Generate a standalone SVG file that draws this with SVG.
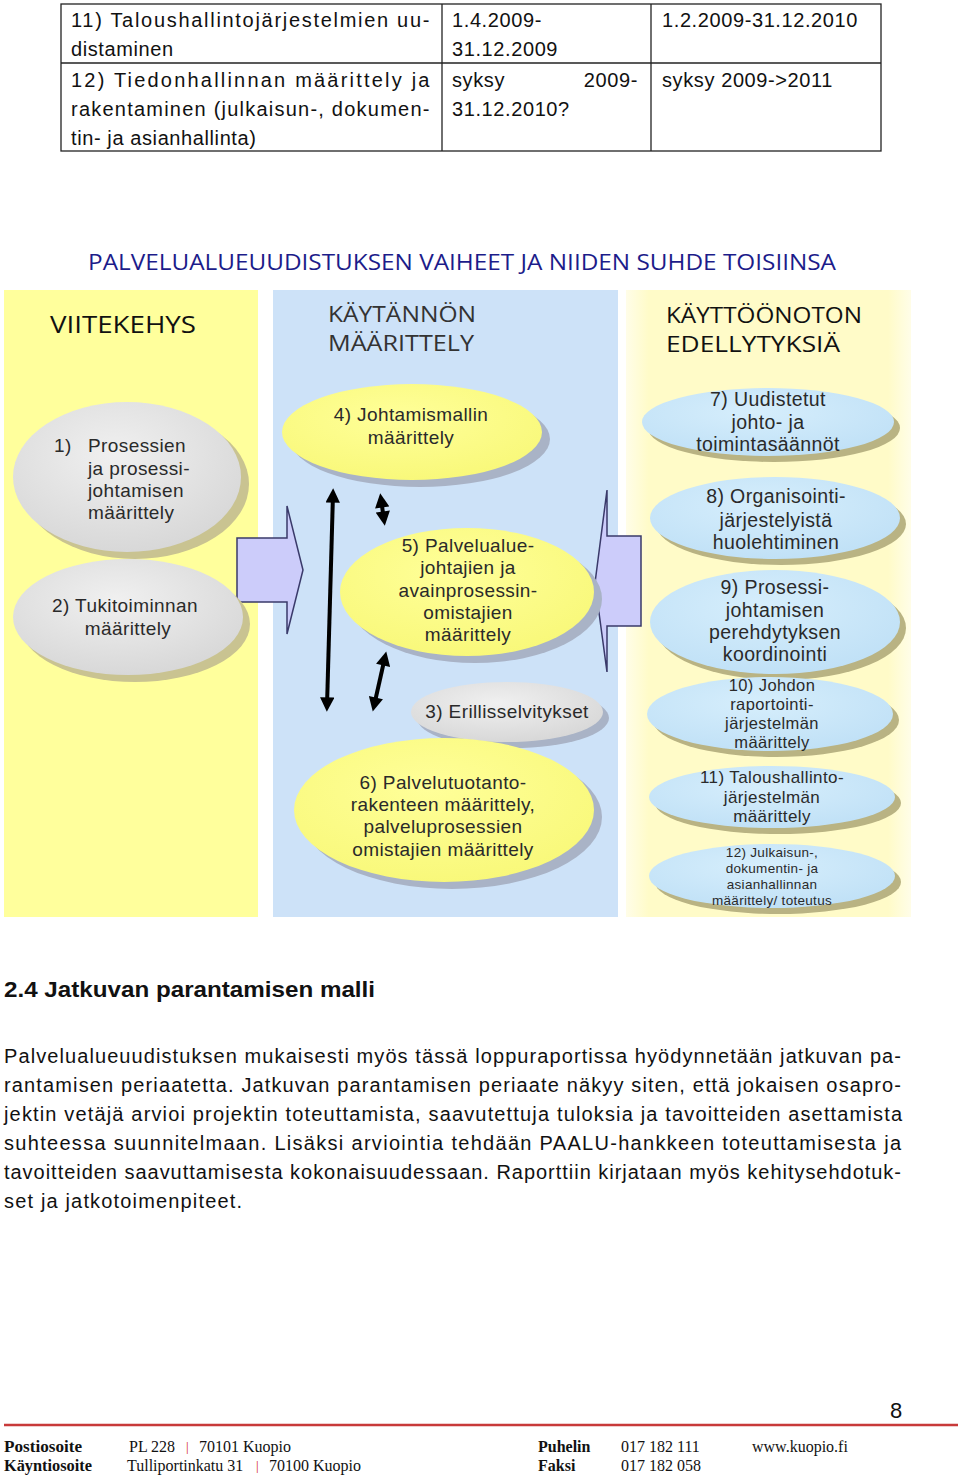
<svg xmlns="http://www.w3.org/2000/svg" width="960" height="1477" viewBox="0 0 960 1477">
<defs>
<style>
.tbl{font-family:"Liberation Sans",Arial,sans-serif;font-size:20px;fill:#111;letter-spacing:0.6px}
.body{font-family:"Liberation Sans",Arial,sans-serif;font-size:20px;fill:#111}
.h2{font-family:"Liberation Sans",Arial,sans-serif;font-size:22px;font-weight:bold;fill:#111}
.ttl{font-family:"Open Sans","DejaVu Sans",sans-serif;font-size:22px;fill:#1c1c8a}
.ph{font-family:"Open Sans","DejaVu Sans",sans-serif;font-size:22px;fill:#111}
.ph2{font-family:"Open Sans","DejaVu Sans",sans-serif;font-size:21px;fill:#333}
.el{font-family:"Liberation Sans",Arial,sans-serif;font-size:19px;letter-spacing:0.4px;fill:#2a2a2a;text-anchor:middle}
.elr{font-family:"Liberation Sans",Arial,sans-serif;font-size:19.5px;letter-spacing:0.4px;fill:#2a2a2a;text-anchor:middle}
.els{font-family:"Liberation Sans",Arial,sans-serif;font-size:16.5px;letter-spacing:0.4px;fill:#2a2a2a;text-anchor:middle}
.elxs{font-family:"Liberation Sans",Arial,sans-serif;font-size:13.5px;letter-spacing:0.3px;fill:#2a2a2a;text-anchor:middle}
.ft{font-family:"Liberation Serif","Times New Roman",serif;font-size:16px;fill:#111}
.ftb{font-family:"Liberation Serif","Times New Roman",serif;font-size:16px;font-weight:bold;fill:#111}
.sep{font-family:"Liberation Serif",serif;font-size:13px;fill:#d02020}
.cell{fill:none;stroke:#222;stroke-width:1.3}
.shg{fill:#c9c391}
.shb{fill:#a9b3c6}
.shr{fill:#b9b383}
.gray{fill:url(#gGray)}
.yel{fill:url(#gYel)}
.blu{fill:url(#gBlu)}
.conn{stroke:#000;stroke-width:4;fill:none;marker-start:url(#ah);marker-end:url(#ah)}
.block{fill:#ccccfa;stroke:#3a3a6a;stroke-width:1.5}
</style>
<radialGradient id="gGray" cx="0.45" cy="0.35" r="0.7">
<stop offset="0" stop-color="#f0f0f0"/><stop offset="1" stop-color="#d6d6d6"/>
</radialGradient>
<radialGradient id="gYel" cx="0.45" cy="0.35" r="0.7">
<stop offset="0" stop-color="#ffff99"/><stop offset="1" stop-color="#f8f878"/>
</radialGradient>
<radialGradient id="gBlu" cx="0.45" cy="0.35" r="0.7">
<stop offset="0" stop-color="#d6eefc"/><stop offset="1" stop-color="#bfe0f6"/>
</radialGradient>
<linearGradient id="gRight" x1="0" y1="0" x2="1" y2="0">
<stop offset="0" stop-color="#fffde8"/><stop offset="0.08" stop-color="#fffbc8"/><stop offset="0.92" stop-color="#fffbc8"/><stop offset="1" stop-color="#fffde8"/>
</linearGradient>
<marker id="ah" viewBox="0 0 10 10" refX="6" refY="5" markerWidth="3.8" markerHeight="3.6" orient="auto-start-reverse" markerUnits="strokeWidth">
<path d="M0,0 L10,5 L0,10 Z" fill="#000"/>
</marker>
</defs>
<rect width="960" height="1477" fill="#fff"/>

<g id="table">
<rect class="cell" x="61" y="4" width="820" height="147"/>
<line class="cell" x1="61" y1="63" x2="881" y2="63"/>
<line class="cell" x1="442" y1="4" x2="442" y2="151"/>
<line class="cell" x1="651" y1="4" x2="651" y2="151"/>
<text class="tbl" x="71" y="27" textLength="359" lengthAdjust="spacing">11) Taloushallintojärjestelmien uu-</text>
<text class="tbl" x="71" y="56">distaminen</text>
<text class="tbl" x="452" y="27">1.4.2009-</text>
<text class="tbl" x="452" y="56">31.12.2009</text>
<text class="tbl" x="662" y="27">1.2.2009-31.12.2010</text>
<text class="tbl" x="71" y="87" textLength="359" lengthAdjust="spacing">12) Tiedonhallinnan määrittely ja</text>
<text class="tbl" x="71" y="116" textLength="359" lengthAdjust="spacing">rakentaminen (julkaisun-, dokumen-</text>
<text class="tbl" x="71" y="145">tin- ja asianhallinta)</text>
<text class="tbl" x="452" y="87">syksy</text>
<text class="tbl" x="638" y="87" text-anchor="end">2009-</text>
<text class="tbl" x="452" y="116">31.12.2010?</text>
<text class="tbl" x="662" y="87">syksy 2009-&gt;2011</text>
</g>

<g id="diagram-title">
<text class="ttl" x="88" y="270" textLength="748" lengthAdjust="spacingAndGlyphs">PALVELUALUEUUDISTUKSEN VAIHEET JA NIIDEN SUHDE TOISIINSA</text>
</g>

<g id="panels">
<rect x="4" y="290" width="254" height="627" fill="#ffff9c"/>
<rect x="273" y="290" width="345" height="627" fill="#cde2f8"/>
<rect x="626" y="290" width="285" height="627" fill="url(#gRight)"/>
<text class="ph" x="50" y="333" textLength="146" lengthAdjust="spacingAndGlyphs" style="font-size:24px">VIITEKEHYS</text>
<text class="ph2" x="328" y="322" textLength="148" lengthAdjust="spacingAndGlyphs">KÄYTÄNNÖN</text>
<text class="ph2" x="328" y="351" textLength="146" lengthAdjust="spacingAndGlyphs">MÄÄRITTELY</text>
<text class="ph" x="666" y="323" textLength="196" lengthAdjust="spacingAndGlyphs">KÄYTTÖÖNOTON</text>
<text class="ph" x="666" y="352" textLength="174" lengthAdjust="spacingAndGlyphs">EDELLYTYKSIÄ</text>
</g>

<g id="connectors">
<path class="block" d="M237,538 H287 V506 L303,570 L287,634 V602 H237 Z"/>
<path class="block" d="M641,536 H607 V490 L595,583 L607,672 V626 H641 Z"/>
<line class="conn" x1="333" y1="494" x2="327" y2="706"/>
<line class="conn" x1="381" y1="499" x2="384" y2="520"/>
<line class="conn" x1="385" y1="657" x2="374" y2="706"/>
</g>

<g id="n1">
<ellipse class="shg" cx="135" cy="484" rx="114" ry="75"/>
<ellipse class="gray" cx="127" cy="477" rx="114" ry="75"/>
<text class="el" x="54" y="452" style="text-anchor:start">1)</text>
<text class="el" x="88" y="452" style="text-anchor:start">Prosessien</text>
<text class="el" x="88" y="475" style="text-anchor:start">ja prosessi-</text>
<text class="el" x="88" y="497" style="text-anchor:start">johtamisen</text>
<text class="el" x="88" y="519" style="text-anchor:start">määrittely</text>
</g>

<g id="n2">
<ellipse class="shg" cx="135" cy="624" rx="115" ry="58"/>
<ellipse class="gray" cx="128" cy="617" rx="115" ry="58"/>
<text class="el" x="125" y="612">2) Tukitoiminnan</text>
<text class="el" x="128" y="635">määrittely</text>
</g>

<g id="n4">
<ellipse class="shb" cx="420" cy="439" rx="130" ry="48"/>
<ellipse class="yel" cx="412" cy="432" rx="130" ry="48"/>
<text class="el" x="411" y="421">4) Johtamismallin</text>
<text class="el" x="411" y="444">määrittely</text>
</g>

<g id="n5">
<ellipse class="shb" cx="475" cy="599" rx="127" ry="64"/>
<ellipse class="yel" cx="467" cy="592" rx="127" ry="64"/>
<text class="el" x="468" y="552">5) Palvelualue-</text>
<text class="el" x="468" y="574">johtajien ja</text>
<text class="el" x="468" y="597">avainprosessin-</text>
<text class="el" x="468" y="619">omistajien</text>
<text class="el" x="468" y="641">määrittely</text>
</g>

<g id="n3">
<ellipse class="shb" cx="513" cy="718" rx="96" ry="30"/>
<ellipse class="gray" cx="507" cy="712" rx="96" ry="30"/>
<text class="el" x="507" y="718">3) Erillisselvitykset</text>
</g>

<g id="n6">
<ellipse class="shb" cx="452" cy="817" rx="150" ry="72"/>
<ellipse class="yel" cx="444" cy="810" rx="150" ry="72"/>
<text class="el" x="443" y="789">6) Palvelutuotanto-</text>
<text class="el" x="443" y="811">rakenteen määrittely,</text>
<text class="el" x="443" y="833">palveluprosessien</text>
<text class="el" x="443" y="856">omistajien määrittely</text>
</g>

<g id="n7">
<ellipse class="shr" cx="774" cy="428" rx="126" ry="34"/>
<ellipse class="blu" cx="768" cy="422" rx="126" ry="34"/>
<text class="elr" x="768" y="406">7) Uudistetut</text>
<text class="elr" x="768" y="429">johto- ja</text>
<text class="elr" x="768" y="451">toimintasäännöt</text>
</g>

<g id="n8">
<ellipse class="shr" cx="781" cy="524" rx="125" ry="41"/>
<ellipse class="blu" cx="775" cy="518" rx="125" ry="41"/>
<text class="elr" x="776" y="503">8) Organisointi-</text>
<text class="elr" x="776" y="527">järjestelyistä</text>
<text class="elr" x="776" y="549">huolehtiminen</text>
</g>

<g id="n9">
<ellipse class="shr" cx="781" cy="628" rx="125" ry="52"/>
<ellipse class="blu" cx="775" cy="622" rx="125" ry="52"/>
<text class="elr" x="775" y="594">9) Prosessi-</text>
<text class="elr" x="775" y="617">johtamisen</text>
<text class="elr" x="775" y="639">perehdytyksen</text>
<text class="elr" x="775" y="661">koordinointi</text>
</g>

<g id="n10">
<ellipse class="shr" cx="776" cy="720" rx="123" ry="37"/>
<ellipse class="blu" cx="770" cy="714" rx="123" ry="37"/>
<text class="els" x="772" y="691">10) Johdon</text>
<text class="els" x="772" y="710">raportointi-</text>
<text class="els" x="772" y="729">järjestelmän</text>
<text class="els" x="772" y="748">määrittely</text>
</g>

<g id="n11">
<ellipse class="shr" cx="778" cy="803" rx="123" ry="31"/>
<ellipse class="blu" cx="772" cy="797" rx="123" ry="31"/>
<text class="els" x="772" y="783" style="font-size:17px">11) Taloushallinto-</text>
<text class="els" x="772" y="803" style="font-size:17px">järjestelmän</text>
<text class="els" x="772" y="822" style="font-size:17px">määrittely</text>
</g>

<g id="n12">
<ellipse class="shr" cx="778" cy="882" rx="123" ry="32"/>
<ellipse class="blu" cx="772" cy="876" rx="123" ry="32"/>
<text class="elxs" x="772" y="857">12) Julkaisun-,</text>
<text class="elxs" x="772" y="873">dokumentin- ja</text>
<text class="elxs" x="772" y="889">asianhallinnan</text>
<text class="elxs" x="772" y="905">määrittely/ toteutus</text>
</g>

<g id="section">
<text class="h2" x="4" y="997" textLength="371" lengthAdjust="spacingAndGlyphs">2.4 Jatkuvan parantamisen malli</text>
<text class="body" x="4" y="1063" textLength="897" lengthAdjust="spacing">Palvelualueuudistuksen mukaisesti myös tässä loppuraportissa hyödynnetään jatkuvan pa-</text>
<text class="body" x="4" y="1092" textLength="897" lengthAdjust="spacing">rantamisen periaatetta. Jatkuvan parantamisen periaate näkyy siten, että jokaisen osapro-</text>
<text class="body" x="4" y="1121" textLength="898" lengthAdjust="spacing">jektin vetäjä arvioi projektin toteuttamista, saavutettuja tuloksia ja tavoitteiden asettamista</text>
<text class="body" x="4" y="1150" textLength="897" lengthAdjust="spacing">suhteessa suunnitelmaan. Lisäksi arviointia tehdään PAALU-hankkeen toteuttamisesta ja</text>
<text class="body" x="4" y="1179" textLength="897" lengthAdjust="spacing">tavoitteiden saavuttamisesta kokonaisuudessaan. Raporttiin kirjataan myös kehitysehdotuk-</text>
<text class="body" x="4" y="1208" textLength="238" lengthAdjust="spacing">set ja jatkotoimenpiteet.</text>
</g>

<g id="footer">
<text x="890" y="1418" style="font-family:'Liberation Sans',Arial,sans-serif;font-size:22px;fill:#111">8</text>
<line x1="4" y1="1425" x2="958" y2="1425" stroke="#c83a3a" stroke-width="2.5"/>
<text class="ftb" x="4" y="1452" textLength="78" lengthAdjust="spacingAndGlyphs">Postiosoite</text>
<text class="ftb" x="4" y="1471" textLength="88" lengthAdjust="spacingAndGlyphs">Käyntiosoite</text>
<text class="ft" x="129" y="1452">PL 228</text>
<text class="sep" x="186" y="1451">|</text>
<text class="ft" x="199" y="1452">70101 Kuopio</text>
<text class="ft" x="127" y="1471">Tulliportinkatu 31</text>
<text class="sep" x="256" y="1470">|</text>
<text class="ft" x="269" y="1471">70100 Kuopio</text>
<text class="ftb" x="538" y="1452">Puhelin</text>
<text class="ftb" x="538" y="1471">Faksi</text>
<text class="ft" x="621" y="1452">017 182 111</text>
<text class="ft" x="621" y="1471">017 182 058</text>
<text class="ft" x="752" y="1452">www.kuopio.fi</text>
</g>
</svg>
